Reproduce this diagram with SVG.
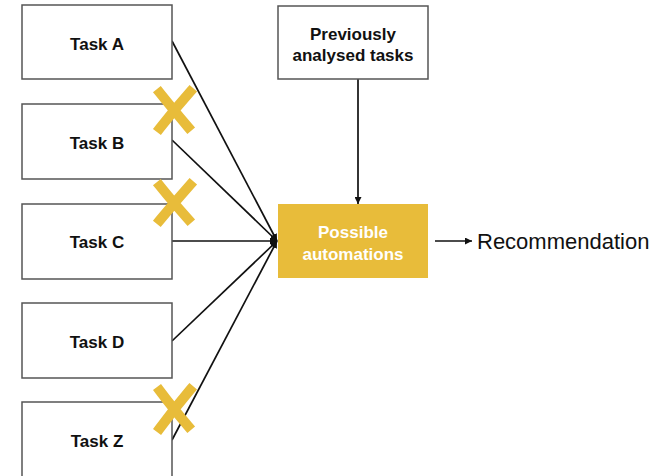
<svg xmlns="http://www.w3.org/2000/svg" width="659" height="476" viewBox="0 0 659 476">
  <style>
    .box { fill: #ffffff; stroke: #555555; stroke-width: 1.5; }
    .hub { fill: #E8BC3A; stroke: none; }
    .lbl { font-family: "Liberation Sans", Arial, sans-serif; font-weight: bold; font-size: 17px; fill: #111111; text-anchor: middle; }
    .lbl-w { fill: #ffffff; }
    .edge { stroke: #111111; stroke-width: 1.7; fill: none; marker-end: url(#arrow); }
    .cross { stroke: #E8BC3A; stroke-width: 10; stroke-linecap: square; fill: none; }
    .plain { font-family: "Liberation Sans", Arial, sans-serif; font-size: 22px; fill: #111111; }
  </style>
  <defs>
    <marker id="arrow" viewBox="0 0 10 10" refX="10" refY="5" markerWidth="7" markerHeight="7" markerUnits="userSpaceOnUse" orient="auto">
      <path d="M0,0 L10,5 L0,10 z" fill="#111111"/>
    </marker>
  </defs>

  <g id="connectors">
    <line class="edge" x1="172" y1="41" x2="277" y2="241"/>
    <line class="edge" x1="172" y1="140" x2="277" y2="241"/>
    <line class="edge" x1="172" y1="241" x2="277" y2="241"/>
    <line class="edge" x1="172" y1="341" x2="277" y2="241"/>
    <line class="edge" x1="172" y1="440" x2="277" y2="241"/>
    <line class="edge" x1="358" y1="79" x2="358" y2="204"/>
    <line class="edge" x1="435" y1="241" x2="472" y2="241"/>
  </g>

  <g id="task-a">
    <rect class="box" x="22" y="5" width="150" height="74"/>
    <text class="lbl" x="97" y="50">Task A</text>
  </g>
  <g id="task-b">
    <rect class="box" x="22" y="104" width="150" height="75"/>
    <text class="lbl" x="97" y="149">Task B</text>
  </g>
  <g id="task-c">
    <rect class="box" x="22" y="204" width="150" height="75"/>
    <text class="lbl" x="97" y="248">Task C</text>
  </g>
  <g id="task-d">
    <rect class="box" x="22" y="303" width="150" height="75"/>
    <text class="lbl" x="97" y="348">Task D</text>
  </g>
  <g id="task-z">
    <rect class="box" x="22" y="402" width="150" height="80"/>
    <text class="lbl" x="97" y="447">Task Z</text>
  </g>

  <g id="previous">
    <rect class="box" x="278" y="6" width="150" height="73"/>
    <text class="lbl" x="353" y="40">Previously</text>
    <text class="lbl" x="353" y="61">analysed tasks</text>
  </g>

  <g id="automations">
    <rect class="hub" x="278" y="204" width="150" height="74"/>
    <text class="lbl lbl-w" x="353" y="238">Possible</text>
    <text class="lbl lbl-w" x="353" y="260">automations</text>
  </g>

  <g id="recommendation">
    <text class="plain" x="477" y="249">Recommendation</text>
  </g>

  <!-- strike-through marks on discarded tasks -->
  <g id="marks">
    <path class="cross" d="M160,93 Q172,108 188,127 M190,92 Q174,110 160,128"/>
    <path class="cross" d="M160,186 Q172,201 188,219 M190,185 Q174,203 160,220"/>
    <path class="cross" d="M160,391 Q172,407 188,426 M190,390 Q174,409 160,428"/>
  </g>
</svg>
